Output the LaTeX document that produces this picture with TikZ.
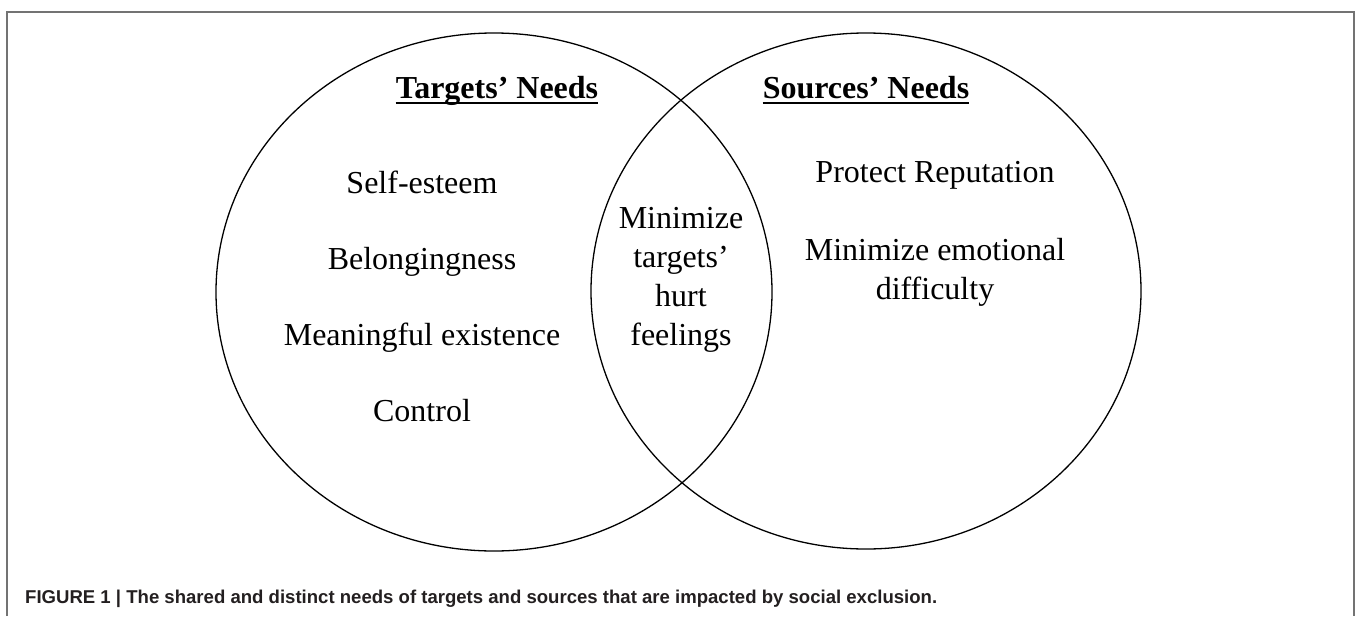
\documentclass[tikz,border=0pt]{standalone}
\usepackage{fontspec}
\usepackage{graphicx}
\setmainfont{Liberation Serif}
\newfontfamily\capfont{Liberation Sans}
\definecolor{framegray}{RGB}{115,115,115}
\definecolor{captext}{RGB}{35,31,32}
\begin{document}
\begin{tikzpicture}[x=1pt,y=-1pt,
  need/.style={inner sep=0pt, anchor=base, text=black, font=\fontsize{32}{39}\selectfont},
  head/.style={need, font=\fontsize{32}{39}\selectfont\bfseries},
  ring/.style={draw=black, line width=1.3pt},
  frameline/.style={draw=framegray, line width=2.5pt},
  uline/.style={draw=black, line width=1.8pt}]
\useasboundingbox (0,0) rectangle (1357,616);

% figure frame (open at the bottom)
\draw[frameline] (7,616) -- (7,12) -- (1354,12) -- (1354,616);

% the two overlapping sets
\draw[ring] (494,292) ellipse [x radius=278pt, y radius=259pt];
\draw[ring] (866,291) ellipse [x radius=275pt, y radius=258pt];

% headings
\node[head] (tn) at (497,98) {Targets’ Needs};
\node[head] (sn) at (866,98) {Sources’ Needs};
\draw[uline] ([yshift=-5pt]tn.base west) -- ([yshift=-5pt]tn.base east);
\draw[uline] ([yshift=-5pt]sn.base west) -- ([yshift=-5pt]sn.base east);

% targets only
\node[need] (t1) at (422,193) {Self-esteem};
\node[need] (t2) at (422,269) {Belongingness};
\node[need] (t3) at (422,345) {Meaningful existence};
\node[need] (t4) at (422,421) {Control};

% shared
\node[need] (m1) at (681,228) {Minimize};
\node[need] (m2) at (681,267) {targets’};
\node[need] (m3) at (681,306) {hurt};
\node[need] (m4) at (681,345) {feelings};

% sources only
\node[need] (s1) at (935,182) {Protect Reputation};
\node[need] (s2) at (935,260) {Minimize emotional};
\node[need] (s3) at (935,299) {difficulty};

% caption
\node[inner sep=0pt, anchor=base west, text=captext] (cap) at (25,603)
  {\resizebox{912pt}{!}{\capfont\bfseries\fontsize{18}{22}\selectfont FIGURE 1 | The shared and distinct needs of targets and sources that are impacted by social exclusion.}};
\end{tikzpicture}
\end{document}
